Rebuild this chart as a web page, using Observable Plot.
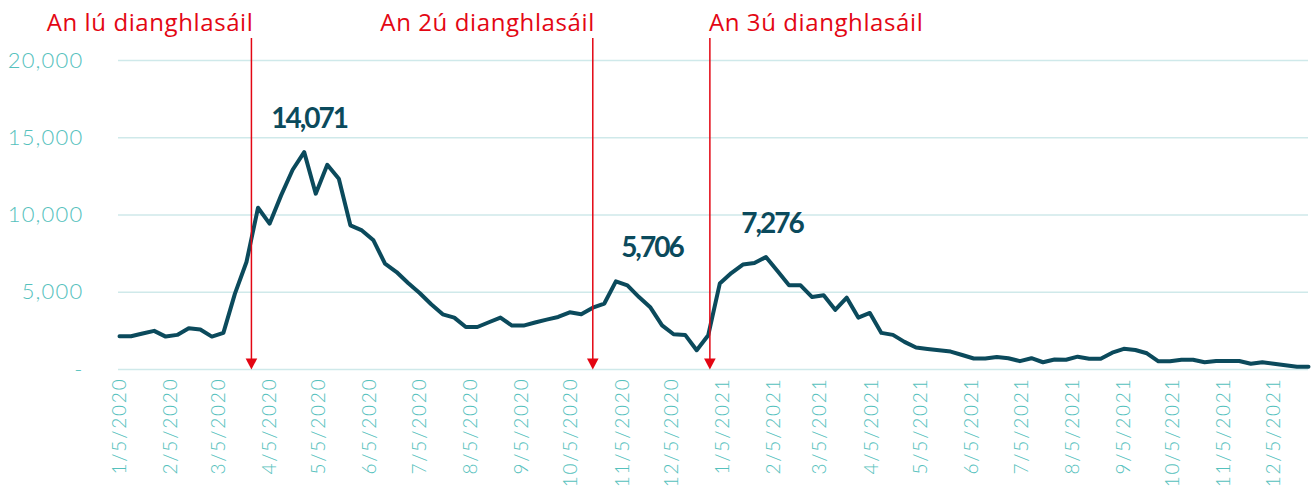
<!DOCTYPE html>
<html>
<head>
<meta charset="utf-8">
<script src="https://cdn.jsdelivr.net/npm/d3@7"></script>
<script src="https://cdn.jsdelivr.net/npm/@observablehq/plot@0.6"></script>
<style>
  html, body { margin: 0; padding: 0; background: #fff; }
  #chart svg { display: block; }
</style>
</head>
<body>
<div id="chart"></div>
<script>
// Weekly series, first week starting 5 Jan 2020
const weekStart = "2020-01-05";
const cases = [
  2150, 2150, 2330, 2500, 2130, 2240, 2670, 2590, 2130, 2370,
  4910, 6960, 10470, 9440, 11270, 12930, 14071, 11380, 13250, 12350,
  9330, 9000, 8360, 6850, 6310, 5600, 4950, 4220, 3570, 3360,
  2750, 2750, 3060, 3360, 2840, 2840, 3040, 3230, 3400, 3700,
  3570, 4000, 4270, 5706, 5450, 4690, 4010, 2860, 2280, 2240,
  1250, 2220, 5560, 6240, 6790, 6890, 7276, 6370, 5450, 5450,
  4690, 4800, 3860, 4650, 3360, 3660, 2370, 2240, 1790, 1420,
  1330, 1250, 1160, 940, 710, 710, 810, 730, 540, 730,
  470, 650, 630, 830, 700, 700, 1090, 1340, 1260, 1050,
  530, 530, 630, 630, 470, 550, 550, 550, 370, 470,
  370, 270, 180, 180
];

const xTickLabels = [
  "1/5/2020", "2/5/2020", "3/5/2020", "4/5/2020", "5/5/2020", "6/5/2020",
  "7/5/2020", "8/5/2020", "9/5/2020", "10/5/2020", "11/5/2020", "12/5/2020",
  "1/5/2021", "2/5/2021", "3/5/2021", "4/5/2021", "5/5/2021", "6/5/2021",
  "7/5/2021", "8/5/2021", "9/5/2021", "10/5/2021", "11/5/2021", "12/5/2021"
];
const yTicks = [0, 5000, 10000, 15000, 20000];
const yTickLabels = ["-", "5,000", "10,000", "15,000", "20,000"];

const lockdownLabels = ["An lú dianghlasáil", "An 2ú dianghlasáil", "An 3ú dianghlasáil"];
const lockdownDates = ["2020-03-25", "2020-10-18", "2020-12-28"];

const peakLabels = ["14,071", "5,706", "7,276"];
const peakValues = [14071, 5706, 7276];
const peakDates = ["2020-04-26", "2020-11-01", "2021-01-31"];

// ---- build tables ----
const iso = d3.utcParse("%Y-%m-%d");
const mdy = d3.utcParse("%m/%d/%Y");
const start = iso(weekStart);
const data = cases.map((v, i) => ({date: d3.utcDay.offset(start, 7 * i), value: v}));
const xTicks = xTickLabels.map(s => mdy(s));
const xLabelMap = new Map(xTicks.map((d, i) => [+d, xTickLabels[i]]));
const yLabelMap = new Map(yTicks.map((d, i) => [d, yTickLabels[i]]));
const lockdowns = lockdownDates.map((d, i) => ({date: iso(d), label: lockdownLabels[i]}));
const peaks = peakDates.map((d, i) => ({date: iso(d), value: peakValues[i], label: peakLabels[i]}));

const RED = "#e30613";
const TEAL = "#55c1bd";
const NAVY = "#0b4a5c";
const GRID = "#cfe9ea";

const downTriangle = {
  draw(context, size) {
    const r = Math.sqrt(size / Math.PI);
    const hw = r * 1.35, h = r * 1.3;
    context.moveTo(-hw, -h);
    context.lineTo(hw, -h);
    context.lineTo(0, h);
    context.closePath();
  }
};

const peakDx = [5, 36, 6];

const chart = Plot.plot({
  width: 1315,
  height: 490,
  marginLeft: 119,
  marginRight: 7,
  marginTop: 60,
  marginBottom: 121,
  style: {fontFamily: "Lato, 'Open Sans', sans-serif", background: "#fff", color: TEAL},
  x: {type: "utc", domain: [data[0].date, data[data.length - 1].date], label: null, axis: null},
  y: {domain: [0, 20000], label: null, axis: null},
  marks: [
    Plot.ruleY(yTicks, {stroke: GRID, strokeWidth: 1.6, insetLeft: -1}),
    Plot.axisY({
      ticks: yTicks,
      tickFormat: d => yLabelMap.get(d),
      tickSize: 0,
      tickPadding: 36,
      fontSize: 22,
      fontWeight: 300,
      color: TEAL,
      label: null
    }),
    Plot.axisX({
      ticks: xTicks,
      tickFormat: d => xLabelMap.get(+d),
      tickRotate: -90,
      tickSize: 0,
      tickPadding: 8,
      fontSize: 19,
      fontWeight: 300,
      color: TEAL,
      label: null
    }),
    Plot.lineY(data, {x: "date", y: "value", stroke: NAVY, strokeWidth: 4, strokeLinejoin: "round", strokeLinecap: "round"}),
    Plot.ruleX(lockdowns, {x: "date", stroke: RED, strokeWidth: 1.5, insetTop: -22, insetBottom: 6}),
    Plot.dot(lockdowns, {x: "date", frameAnchor: "bottom", symbol: downTriangle, r: 4.3, fill: RED, stroke: "none", dy: -5.5}),
    Plot.text(lockdowns.slice(0, 2), {x: "date", text: "label", frameAnchor: "top", textAnchor: "end", lineAnchor: "middle", dy: -37, dx: 2, fill: RED, fontSize: 24, fontFamily: "'Open Sans', sans-serif"}),
    Plot.text(lockdowns.slice(2), {x: "date", text: "label", frameAnchor: "top", textAnchor: "start", lineAnchor: "middle", dy: -37, dx: -1, fill: RED, fontSize: 24, fontFamily: "'Open Sans', sans-serif"}),
    ...peaks.map((p, i) => Plot.text([p], {x: "date", y: "value", text: "label", textAnchor: "middle", lineAnchor: "bottom", dy: -24, dx: peakDx[i], fill: NAVY, fontSize: 28, fontWeight: "bold"}))
  ]
});

// letter spacing tweaks to match the wider axis face and the tighter bold labels
d3.select(chart).selectAll('g[aria-label="y-axis tick label"] text').style("letter-spacing", "1.2px");
d3.select(chart).selectAll('g[aria-label="x-axis tick label"] text').style("letter-spacing", "1.8px");
d3.select(chart).selectAll("text").filter(function() { return peakLabels.includes(this.textContent); })
  .style("letter-spacing", "-2px");
d3.select(chart).selectAll("text").filter(function() { return lockdownLabels.includes(this.textContent); })
  .style("letter-spacing", "0.6px");

document.getElementById("chart").appendChild(chart);
</script>
</body>
</html>
